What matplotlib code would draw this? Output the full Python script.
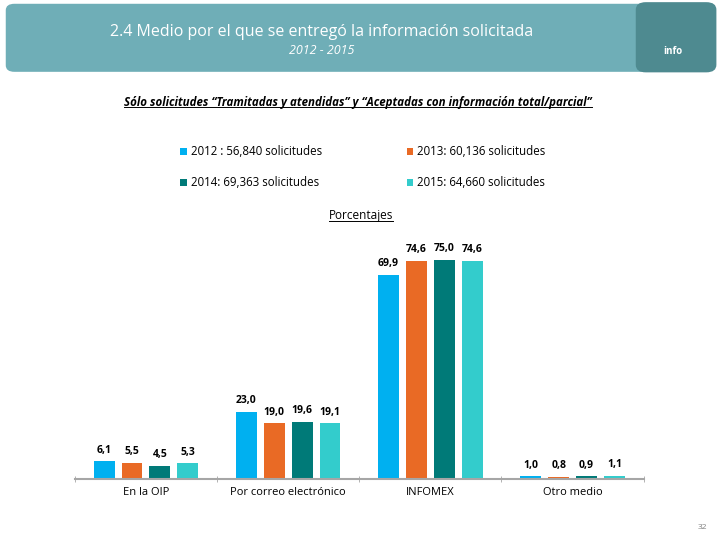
import matplotlib.pyplot as plt
import numpy as np
from matplotlib.patches import FancyBboxPatch
from matplotlib.lines import Line2D

plt.rcParams['font.family'] = ['Open Sans', 'DejaVu Sans']

# datos
categorias = ["En la OIP", "Por correo electrónico", "INFOMEX", "Otro medio"]
anios = ["2012 : 56,840 solicitudes", "2013: 60,136 solicitudes",
         "2014: 69,363 solicitudes", "2015: 64,660 solicitudes"]
v2012 = [6.1, 23.0, 69.9, 1.0]
v2013 = [5.5, 19.0, 74.6, 0.8]
v2014 = [4.5, 19.6, 75.0, 0.9]
v2015 = [5.3, 19.1, 74.6, 1.1]
series = [v2012, v2013, v2014, v2015]
colores = ["#00B0F0", "#E96A25", "#007A78", "#33CCCC"]

fig = plt.figure(figsize=(7.2, 5.4), dpi=100)

# encabezado
fig.patches.append(FancyBboxPatch((0.008, 0.867), 0.980, 0.126,
                                  boxstyle="round,pad=0,rounding_size=0.012",
                                  transform=fig.transFigure, facecolor="#6FAEB7",
                                  edgecolor="none"))
fig.patches.append(FancyBboxPatch((0.883, 0.866), 0.112, 0.130,
                                  boxstyle="round,pad=0,rounding_size=0.014",
                                  transform=fig.transFigure, facecolor="#4E8A90",
                                  edgecolor="none"))
fig.text(0.934, 0.905, "info", color="white", fontsize=7, fontweight="bold",
         ha="center", va="center")
fig.text(0.447, 0.940, "2.4 Medio por el que se entregó la información solicitada",
         color="white", fontsize=11.5, ha="center", va="center")
fig.text(0.447, 0.907, "2012 - 2015", color="white", fontsize=9, style="italic",
         ha="center", va="center")

t1 = fig.text(0.497, 0.811,
              "Sólo solicitudes “Tramitadas y atendidas” y “Aceptadas con información total/parcial”",
              fontsize=8.3, style="italic", fontweight="bold", ha="center", va="center")
t2 = fig.text(0.501, 0.600, "Porcentajes", fontsize=8.5, ha="center", va="center")

fig.text(0.975, 0.024, "32", fontsize=6, color="#7F7F7F", ha="center", va="center")

# gráfica
ax = fig.add_axes([0.104, 0.113, 0.790, 0.433])
x = np.arange(len(categorias))
paso = 0.196
ancho = 0.147
barras = []
for i, (vals, c) in enumerate(zip(series, colores)):
    b = ax.bar(x + (i - 1.5) * paso, vals, ancho, color=c, label=anios[i])
    barras.append(b)
    for xi, v in zip(x + (i - 1.5) * paso, vals):
        ax.annotate(f"{v:.1f}".replace(".", ","), (xi, v), xytext=(0, 4),
                    textcoords="offset points", ha="center", va="bottom",
                    fontsize=7.5, fontweight="bold", annotation_clip=False)

ax.set_xlim(-0.5, 3.5)
ax.set_ylim(0, 80)
ax.set_yticks([])
ax.set_xticks(x)
ax.set_xticklabels(categorias, fontsize=8)
ax.set_xticks([-0.5, 0.5, 1.5, 2.5, 3.5], minor=True)
ax.tick_params(axis="x", which="major", length=0, pad=6)
ax.tick_params(axis="x", which="minor", length=4, direction="inout", color="#A6A6A6")
for s in ["top", "right", "left"]:
    ax.spines[s].set_visible(False)
ax.spines["bottom"].set_color("#A6A6A6")
ax.spines["bottom"].set_linewidth(1.5)

orden = [0, 2, 1, 3]
fig.legend([barras[i] for i in orden], [anios[i] for i in orden], ncol=2,
           loc="upper left", bbox_to_anchor=(0.236, 0.750), frameon=False,
           fontsize=8.3, handlelength=0.6, handleheight=0.6, handletextpad=0.3,
           columnspacing=7.35, labelspacing=1.55)

# subrayados
fig.canvas.draw()
for t in [t1, t2]:
    bb = t.get_window_extent().transformed(fig.transFigure.inverted())
    fig.lines.append(Line2D([bb.x0, bb.x1], [bb.y0 + 0.002, bb.y0 + 0.002],
                            transform=fig.transFigure, color="black", linewidth=0.7))

plt.savefig("out.png", dpi=100)
